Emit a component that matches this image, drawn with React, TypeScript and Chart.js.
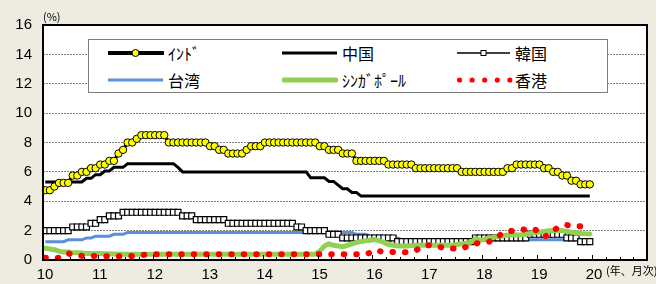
import React, { useEffect, useRef } from 'react';
import { Chart, registerables } from 'chart.js';

Chart.register(...registerables);

// ---- data (monthly, Jan 2010 – Dec 2019) ----
const FIRST_YEAR = 10;
const X_TICK_LABELS = [10, 11, 12, 13, 14, 15, 16, 17, 18, 19, 20];
const Y_TICK_STEP = 2;
const Y_MAX = 16;
const SERIES_NAMES = ['ｲﾝﾄﾞ', '中国', '韓国', '台湾', 'ｼﾝｶﾞﾎﾟｰﾙ', '香港'];

const india = [
  4.75, 4.75, 5.0, 5.25, 5.25, 5.25, 5.75, 5.75, 6.0, 6.0, 6.25, 6.25,
  6.5, 6.5, 6.75, 6.75, 7.25, 7.5, 8.0, 8.0, 8.25, 8.5, 8.5, 8.5,
  8.5, 8.5, 8.5, 8.0, 8.0, 8.0, 8.0, 8.0, 8.0, 8.0, 8.0, 8.0,
  7.75, 7.75, 7.5, 7.5, 7.25, 7.25, 7.25, 7.25, 7.5, 7.75, 7.75, 7.75,
  8.0, 8.0, 8.0, 8.0, 8.0, 8.0, 8.0, 8.0, 8.0, 8.0, 8.0, 8.0,
  7.75, 7.75, 7.5, 7.5, 7.5, 7.25, 7.25, 7.25, 6.75, 6.75, 6.75, 6.75,
  6.75, 6.75, 6.75, 6.5, 6.5, 6.5, 6.5, 6.5, 6.5, 6.25, 6.25, 6.25,
  6.25, 6.25, 6.25, 6.25, 6.25, 6.25, 6.25, 6.0, 6.0, 6.0, 6.0, 6.0,
  6.0, 6.0, 6.0, 6.0, 6.0, 6.25, 6.25, 6.5, 6.5, 6.5, 6.5, 6.5,
  6.5, 6.25, 6.25, 6.0, 6.0, 5.75, 5.75, 5.4, 5.4, 5.15, 5.15, 5.15,
];

const china = [
  5.31, 5.31, 5.31, 5.31, 5.31, 5.31, 5.31, 5.31, 5.31, 5.56, 5.56, 5.81,
  5.81, 6.06, 6.06, 6.31, 6.31, 6.31, 6.56, 6.56, 6.56, 6.56, 6.56, 6.56,
  6.56, 6.56, 6.56, 6.56, 6.56, 6.31, 6.0, 6.0, 6.0, 6.0, 6.0, 6.0,
  6.0, 6.0, 6.0, 6.0, 6.0, 6.0, 6.0, 6.0, 6.0, 6.0, 6.0, 6.0,
  6.0, 6.0, 6.0, 6.0, 6.0, 6.0, 6.0, 6.0, 6.0, 6.0, 5.6, 5.6,
  5.6, 5.6, 5.35, 5.35, 5.1, 4.85, 4.85, 4.6, 4.6, 4.35, 4.35, 4.35,
  4.35, 4.35, 4.35, 4.35, 4.35, 4.35, 4.35, 4.35, 4.35, 4.35, 4.35, 4.35,
  4.35, 4.35, 4.35, 4.35, 4.35, 4.35, 4.35, 4.35, 4.35, 4.35, 4.35, 4.35,
  4.35, 4.35, 4.35, 4.35, 4.35, 4.35, 4.35, 4.35, 4.35, 4.35, 4.35, 4.35,
  4.35, 4.35, 4.35, 4.35, 4.35, 4.35, 4.35, 4.35, 4.35, 4.35, 4.35, 4.35,
];

const korea = [
  2.0, 2.0, 2.0, 2.0, 2.0, 2.0, 2.25, 2.25, 2.25, 2.25, 2.5, 2.5,
  2.75, 2.75, 3.0, 3.0, 3.0, 3.25, 3.25, 3.25, 3.25, 3.25, 3.25, 3.25,
  3.25, 3.25, 3.25, 3.25, 3.25, 3.25, 3.0, 3.0, 3.0, 2.75, 2.75, 2.75,
  2.75, 2.75, 2.75, 2.75, 2.5, 2.5, 2.5, 2.5, 2.5, 2.5, 2.5, 2.5,
  2.5, 2.5, 2.5, 2.5, 2.5, 2.5, 2.5, 2.25, 2.25, 2.0, 2.0, 2.0,
  2.0, 2.0, 1.75, 1.75, 1.75, 1.5, 1.5, 1.5, 1.5, 1.5, 1.5, 1.5,
  1.5, 1.5, 1.5, 1.5, 1.5, 1.25, 1.25, 1.25, 1.25, 1.25, 1.25, 1.25,
  1.25, 1.25, 1.25, 1.25, 1.25, 1.25, 1.25, 1.25, 1.25, 1.25, 1.5, 1.5,
  1.5, 1.5, 1.5, 1.5, 1.5, 1.5, 1.5, 1.5, 1.5, 1.5, 1.75, 1.75,
  1.75, 1.75, 1.75, 1.75, 1.75, 1.75, 1.5, 1.5, 1.5, 1.25, 1.25, 1.25,
];

const taiwan = [
  1.25, 1.25, 1.25, 1.25, 1.25, 1.375, 1.375, 1.375, 1.375, 1.5, 1.5, 1.625,
  1.625, 1.625, 1.625, 1.75, 1.75, 1.75, 1.875, 1.875, 1.875, 1.875, 1.875, 1.875,
  1.875, 1.875, 1.875, 1.875, 1.875, 1.875, 1.875, 1.875, 1.875, 1.875, 1.875, 1.875,
  1.875, 1.875, 1.875, 1.875, 1.875, 1.875, 1.875, 1.875, 1.875, 1.875, 1.875, 1.875,
  1.875, 1.875, 1.875, 1.875, 1.875, 1.875, 1.875, 1.875, 1.875, 1.875, 1.875, 1.875,
  1.875, 1.875, 1.875, 1.875, 1.875, 1.875, 1.875, 1.875, 1.75, 1.75, 1.75, 1.625,
  1.625, 1.625, 1.5, 1.5, 1.5, 1.5, 1.375, 1.375, 1.375, 1.375, 1.375, 1.375,
  1.375, 1.375, 1.375, 1.375, 1.375, 1.375, 1.375, 1.375, 1.375, 1.375, 1.375, 1.375,
  1.375, 1.375, 1.375, 1.375, 1.375, 1.375, 1.375, 1.375, 1.375, 1.375, 1.375, 1.375,
  1.375, 1.375, 1.375, 1.375, 1.375, 1.375, 1.375, 1.375, 1.375, 1.375, 1.375, 1.375,
];

const singapore = [
  0.8, 0.75, 0.7, 0.6, 0.55, 0.55, 0.5, 0.5, 0.48, 0.45, 0.45, 0.45,
  0.45, 0.43, 0.42, 0.41, 0.4, 0.4, 0.4, 0.4, 0.4, 0.4, 0.4, 0.4,
  0.4, 0.4, 0.4, 0.4, 0.4, 0.4, 0.4, 0.4, 0.4, 0.4, 0.4, 0.4,
  0.4, 0.4, 0.4, 0.4, 0.4, 0.4, 0.4, 0.4, 0.4, 0.4, 0.4, 0.4,
  0.4, 0.4, 0.4, 0.4, 0.4, 0.4, 0.4, 0.4, 0.4, 0.4, 0.4, 0.4,
  0.6, 0.95, 1.1, 1.0, 0.95, 0.9, 1.0, 1.1, 1.2, 1.25, 1.3, 1.35,
  1.4, 1.3, 1.2, 1.05, 1.0, 0.95, 0.95, 0.95, 0.98, 1.0, 1.0, 1.0,
  1.0, 1.0, 1.0, 1.0, 1.0, 1.0, 1.05, 1.1, 1.15, 1.2, 1.45, 1.35,
  1.4, 1.5, 1.55, 1.6, 1.65, 1.7, 1.7, 1.7, 1.72, 1.75, 1.8, 1.85,
  1.9, 1.95, 2.0, 2.0, 2.02, 2.0, 1.95, 1.9, 1.85, 1.8, 1.78, 1.77,
];

const hongkong = [
  0.15, 0.12, 0.12, 0.15, 0.35, 0.45, 0.35, 0.3, 0.28, 0.27, 0.27, 0.27,
  0.25, 0.25, 0.25, 0.25, 0.25, 0.25, 0.25, 0.27, 0.3, 0.33, 0.36, 0.38,
  0.39, 0.39, 0.39, 0.39, 0.39, 0.39, 0.39, 0.39, 0.39, 0.39, 0.39, 0.39,
  0.39, 0.39, 0.39, 0.39, 0.39, 0.39, 0.39, 0.39, 0.39, 0.39, 0.39, 0.39,
  0.39, 0.39, 0.39, 0.39, 0.39, 0.39, 0.39, 0.39, 0.39, 0.39, 0.39, 0.39,
  0.39, 0.39, 0.39, 0.39, 0.39, 0.39, 0.39, 0.39, 0.39, 0.39, 0.38, 0.5,
  0.68, 0.6, 0.55, 0.52, 0.55, 0.55, 0.55, 0.52, 0.6, 0.65, 0.85, 1.0,
  1.0, 0.9, 0.88, 0.86, 0.82, 0.78, 0.76, 0.75, 0.9, 1.05, 1.1, 1.2,
  1.18, 1.25, 1.4, 1.6, 1.85, 1.95, 1.97, 2.0, 2.05, 2.1, 2.15, 2.1,
  1.8, 1.59, 1.7, 2.0, 2.2, 2.35, 2.38, 2.3, 2.27, 2.3, 2.35, 2.38,
];

// ---- styling ----
const FONT_LATIN = '"Liberation Sans", Arial, sans-serif';
const FONT_JP = '"Noto Sans CJK JP", "Noto Sans", sans-serif';
const BG = '#EEECE1';
const BLUE = '#5B8FD6';
const GREEN = '#92D050';
const RED = '#FF0000';
const YELLOW = '#FFFF00';

const toPoints = (values: number[]) =>
  values.map((v, i) => ({ x: FIRST_YEAR + (i + 0.5) / 12, y: v }));

const framePlugin = {
  id: 'frame',
  beforeDraw(chart: any) {
    const { ctx, chartArea: a } = chart;
    ctx.save();
    ctx.fillStyle = '#ffffff';
    ctx.fillRect(a.left, a.top, a.right - a.left, a.bottom - a.top);
    ctx.restore();
  },
  afterDraw(chart: any) {
    const { ctx, chartArea: a, scales } = chart;
    const xs = scales.x;
    ctx.save();
    ctx.strokeStyle = '#000';
    ctx.lineWidth = 1;
    const min = xs.min;
    const max = xs.max;
    for (let q = 0; q <= (max - min) * 4; q++) {
      const t = min + q / 4;
      const px = Math.round(xs.getPixelForValue(t)) + 0.5;
      const len = q % 4 === 0 ? 5 : 3;
      ctx.beginPath();
      ctx.moveTo(px, a.bottom);
      ctx.lineTo(px, a.bottom - len);
      ctx.stroke();
    }
    ctx.lineWidth = 2;
    ctx.strokeRect(a.left, a.top, a.right - a.left, a.bottom - a.top);
    ctx.restore();
  },
};

type LegendKind = 'india' | 'china' | 'korea' | 'taiwan' | 'singapore' | 'hongkong';

const LEGEND_ITEMS: { name: string; kind: LegendKind; col: number; row: number }[] = [
  { name: SERIES_NAMES[0], kind: 'india', col: 0, row: 0 },
  { name: SERIES_NAMES[1], kind: 'china', col: 1, row: 0 },
  { name: SERIES_NAMES[2], kind: 'korea', col: 2, row: 0 },
  { name: SERIES_NAMES[3], kind: 'taiwan', col: 0, row: 1 },
  { name: SERIES_NAMES[4], kind: 'singapore', col: 1, row: 1 },
  { name: SERIES_NAMES[5], kind: 'hongkong', col: 2, row: 1 },
];

const LEG_LINE_X = [108, 282, 457];
const LEG_TEXT_X = [168, 342, 515];
const LEG_ROW_Y = [53, 80];

function Sample({ kind }: { kind: LegendKind }) {
  const w = 56;
  const h = 14;
  const cy = 7;
  if (kind === 'india') {
    return (
      <svg width={w} height={h}>
        <line x1={0} y1={cy} x2={55} y2={cy} stroke="#000" strokeWidth={4} strokeLinecap="round" />
        <circle cx={27.5} cy={cy} r={3.5} fill={YELLOW} stroke="#000" strokeWidth={1} />
      </svg>
    );
  }
  if (kind === 'china') {
    return (
      <svg width={w} height={h}>
        <line x1={0} y1={cy} x2={55} y2={cy} stroke="#000" strokeWidth={3} />
      </svg>
    );
  }
  if (kind === 'korea') {
    return (
      <svg width={w} height={h}>
        <line x1={0} y1={cy} x2={53} y2={cy} stroke="#000" strokeWidth={1.5} />
        <rect x={24} y={cy - 2.5} width={5} height={5} fill="#fff" stroke="#000" strokeWidth={1} />
      </svg>
    );
  }
  if (kind === 'taiwan') {
    return (
      <svg width={w} height={h}>
        <line x1={0} y1={cy} x2={55} y2={cy} stroke={BLUE} strokeWidth={3} />
      </svg>
    );
  }
  if (kind === 'singapore') {
    return (
      <svg width={w} height={h}>
        <line x1={2} y1={cy} x2={54} y2={cy} stroke={GREEN} strokeWidth={5} strokeLinecap="round" />
      </svg>
    );
  }
  return (
    <svg width={w} height={h}>
      {[0, 1, 2, 3, 4].map((k) => (
        <circle key={k} cx={2.5 + k * 12.6} cy={cy} r={2.6} fill={RED} />
      ))}
    </svg>
  );
}

export default function App() {
  const canvasRef = useRef<HTMLCanvasElement | null>(null);

  useEffect(() => {
    const canvas = canvasRef.current;
    if (!canvas) return;
    const chart = new Chart(canvas, {
      type: 'line',
      data: {
        datasets: [
          {
            label: SERIES_NAMES[0],
            data: toPoints(india),
            borderColor: '#000',
            borderWidth: 3,
            pointRadius: 3.7,
            pointBorderWidth: 1,
            pointBackgroundColor: YELLOW,
            pointBorderColor: '#000',
            order: 0,
          },
          {
            label: SERIES_NAMES[1],
            data: toPoints(china),
            borderColor: '#000',
            borderWidth: 3,
            pointRadius: 0,
            order: 5,
          },
          {
            label: SERIES_NAMES[2],
            data: toPoints(korea),
            borderColor: '#000',
            borderWidth: 1,
            pointStyle: 'rect',
            pointRadius: 4.2,
            pointBorderWidth: 1.2,
            pointBackgroundColor: '#fff',
            pointBorderColor: '#000',
            order: 3,
          },
          {
            label: SERIES_NAMES[3],
            data: toPoints(taiwan),
            borderColor: BLUE,
            borderWidth: 3,
            pointRadius: 0,
            order: 4,
          },
          {
            label: SERIES_NAMES[4],
            data: toPoints(singapore),
            borderColor: GREEN,
            borderWidth: 5,
            borderJoinStyle: 'round',
            borderCapStyle: 'round',
            pointRadius: 0,
            order: 2,
          },
          {
            label: SERIES_NAMES[5],
            data: toPoints(hongkong),
            borderColor: RED,
            borderWidth: 6,
            borderCapStyle: 'round',
            borderDash: [0.5, 12],
            pointRadius: 0,
            order: 1,
          },
        ] as any,
      },
      options: {
        animation: false,
        responsive: false,
        maintainAspectRatio: false,
        layout: { padding: { top: 25, right: 9, left: 0, bottom: 0 } },
        plugins: { legend: { display: false }, tooltip: { enabled: false } },
        elements: { line: { tension: 0 } },
        scales: {
          x: {
            type: 'linear',
            min: 10,
            max: 21,
            grid: { display: false, drawTicks: false },
            border: { display: false },
            ticks: {
              stepSize: 1,
              autoSkip: false,
              maxRotation: 0,
              padding: 6,
              labelOffset: 2,
              color: '#000',
              font: { family: FONT_LATIN, size: 15 },
              callback: (v: any) => (X_TICK_LABELS.includes(Number(v)) ? String(v) : ''),
            },
            afterFit: (s: any) => {
              s.height = 24;
            },
          },
          y: {
            min: 0,
            max: Y_MAX,
            grid: { color: '#808080', lineWidth: 1, drawTicks: false },
            border: { display: false, dash: [2, 1] },
            ticks: {
              stepSize: Y_TICK_STEP,
              padding: 11,
              color: '#000',
              font: { family: FONT_LATIN, size: 15 },
            },
            afterFit: (s: any) => {
              s.width = 43;
            },
          },
        },
      } as any,
      plugins: [framePlugin],
    });
    return () => chart.destroy();
  }, []);

  return (
    <div
      style={{
        position: 'absolute',
        left: 0,
        top: 0,
        width: 656,
        height: 284,
        background: BG,
        overflow: 'hidden',
      }}
    >
      <canvas ref={canvasRef} width={656} height={284} style={{ display: 'block', width: 656, height: 284 }} />
      <span
        style={{
          position: 'absolute',
          left: 43,
          top: 9,
          fontFamily: FONT_JP,
          fontSize: 11,
          lineHeight: '14px',
          color: '#000',
          whiteSpace: 'nowrap',
        }}
      >
        (%)
      </span>
      <span
        style={{
          position: 'absolute',
          left: 606,
          top: 263,
          fontFamily: FONT_JP,
          fontSize: 11,
          lineHeight: '14px',
          color: '#000',
          whiteSpace: 'nowrap',
        }}
      >
        (年、月次)
      </span>
      <div
        style={{
          position: 'absolute',
          left: 88,
          top: 39,
          width: 520,
          height: 54,
          boxSizing: 'border-box',
          border: '1px solid #7f7f7f',
          background: '#fff',
        }}
      />
      {LEGEND_ITEMS.map((it) => (
        <React.Fragment key={it.kind}>
          <div style={{ position: 'absolute', left: LEG_LINE_X[it.col], top: LEG_ROW_Y[it.row] - 7, height: 14 }}>
            <Sample kind={it.kind} />
          </div>
          <span
            style={{
              position: 'absolute',
              left: LEG_TEXT_X[it.col],
              top: LEG_ROW_Y[it.row] - 11,
              fontFamily: FONT_JP,
              fontSize: 16,
              lineHeight: '22px',
              color: '#000',
              whiteSpace: 'nowrap',
            }}
          >
            {it.name}
          </span>
        </React.Fragment>
      ))}
    </div>
  );
}
